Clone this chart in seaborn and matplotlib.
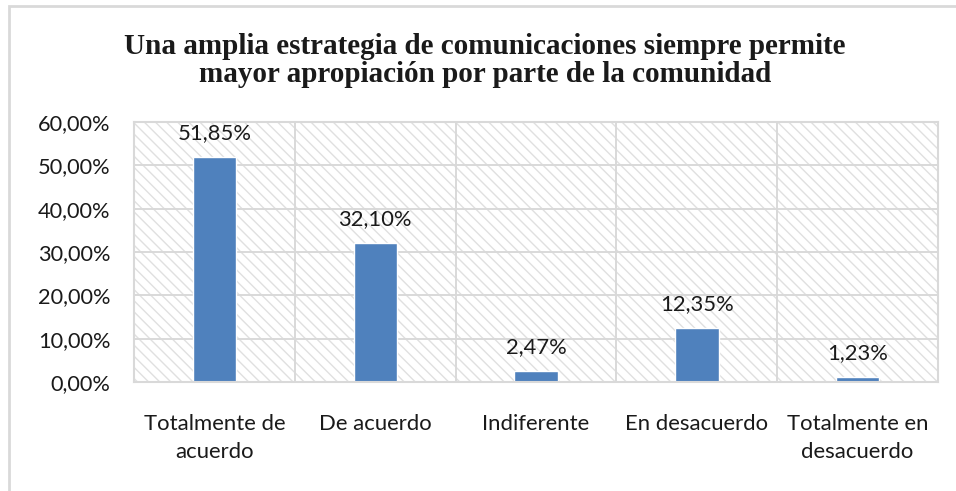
import matplotlib
matplotlib.use("Agg")
import matplotlib.pyplot as plt
import seaborn as sns
import pandas as pd
from matplotlib.patches import Rectangle
from matplotlib.ticker import FuncFormatter, MultipleLocator

sns.set_style("white")
plt.rcParams['font.family'] = ['Lato', 'DejaVu Sans']
plt.rcParams['hatch.linewidth'] = 1.0

categorias = ["Totalmente de\nacuerdo", "De acuerdo", "Indiferente",
              "En desacuerdo", "Totalmente en\ndesacuerdo"]
porcentajes = [51.85, 32.10, 2.47, 12.35, 1.23]
titulo = ("Una amplia estrategia de comunicaciones siempre permite\n"
          "mayor apropiación por parte de la comunidad")

df = pd.DataFrame({'Respuesta': categorias, 'Porcentaje': porcentajes})

gris = '#d9d9d9'
texto = '#1a1a1a'

fig = plt.figure(figsize=(9.56, 4.91), dpi=100)
ax = fig.add_axes([0.1402, 0.222, 0.8410, 0.5295])

# fondo rayado del area de trazado
ax.add_patch(Rectangle((0, 0), 1, 1, transform=ax.transAxes, facecolor='white',
                       edgecolor='#e0e0e0', hatch='\\\\\\', lw=0, zorder=0))

sns.barplot(data=df, x='Respuesta', y='Porcentaje', color='#4f81bd',
            saturation=1, width=0.27, ax=ax, zorder=2)

for i, v in enumerate(porcentajes):
    ax.annotate(f"{v:.2f}%".replace('.', ','), (i, v), xytext=(0, 13),
                textcoords='offset points', ha='center', va='baseline',
                fontsize=15.8, color=texto)

ax.set_xlim(-0.5, len(categorias) - 0.5)
ax.set_ylim(0, 60)
ax.yaxis.set_major_locator(MultipleLocator(10))
ax.yaxis.set_major_formatter(FuncFormatter(lambda y, _: f"{y:.2f}%".replace('.', ',')))
ax.set_xticks([i + 0.5 for i in range(len(categorias) - 1)], minor=True)

ax.set_axisbelow(True)
ax.grid(axis='y', which='major', color=gris, lw=1.4)
ax.grid(axis='x', which='minor', color=gris, lw=1.4)
ax.grid(axis='x', which='major', visible=False)

for s in ax.spines.values():
    s.set_color(gris)
    s.set_linewidth(1.5)

ax.tick_params(axis='y', length=0, pad=17, labelsize=15.7, labelcolor=texto)
ax.tick_params(axis='x', which='both', length=0, pad=23, labelsize=15.9, labelcolor=texto)
for lbl in ax.get_xticklabels():
    lbl.set_linespacing(1.5)
ax.set_xlabel('')
ax.set_ylabel('')

fig.text(0.507, 0.877, titulo, ha='center', va='center', fontsize=21,
         fontweight='bold', family=['Liberation Serif'], color=texto, linespacing=1.03)

# borde exterior del grafico
fig.add_artist(Rectangle((8.5 / 956, -0.1), 1.2, 1.1 - 6 / 491,
                         transform=fig.transFigure, fill=False,
                         edgecolor=gris, lw=2))

fig.savefig("out.png", dpi=100)
